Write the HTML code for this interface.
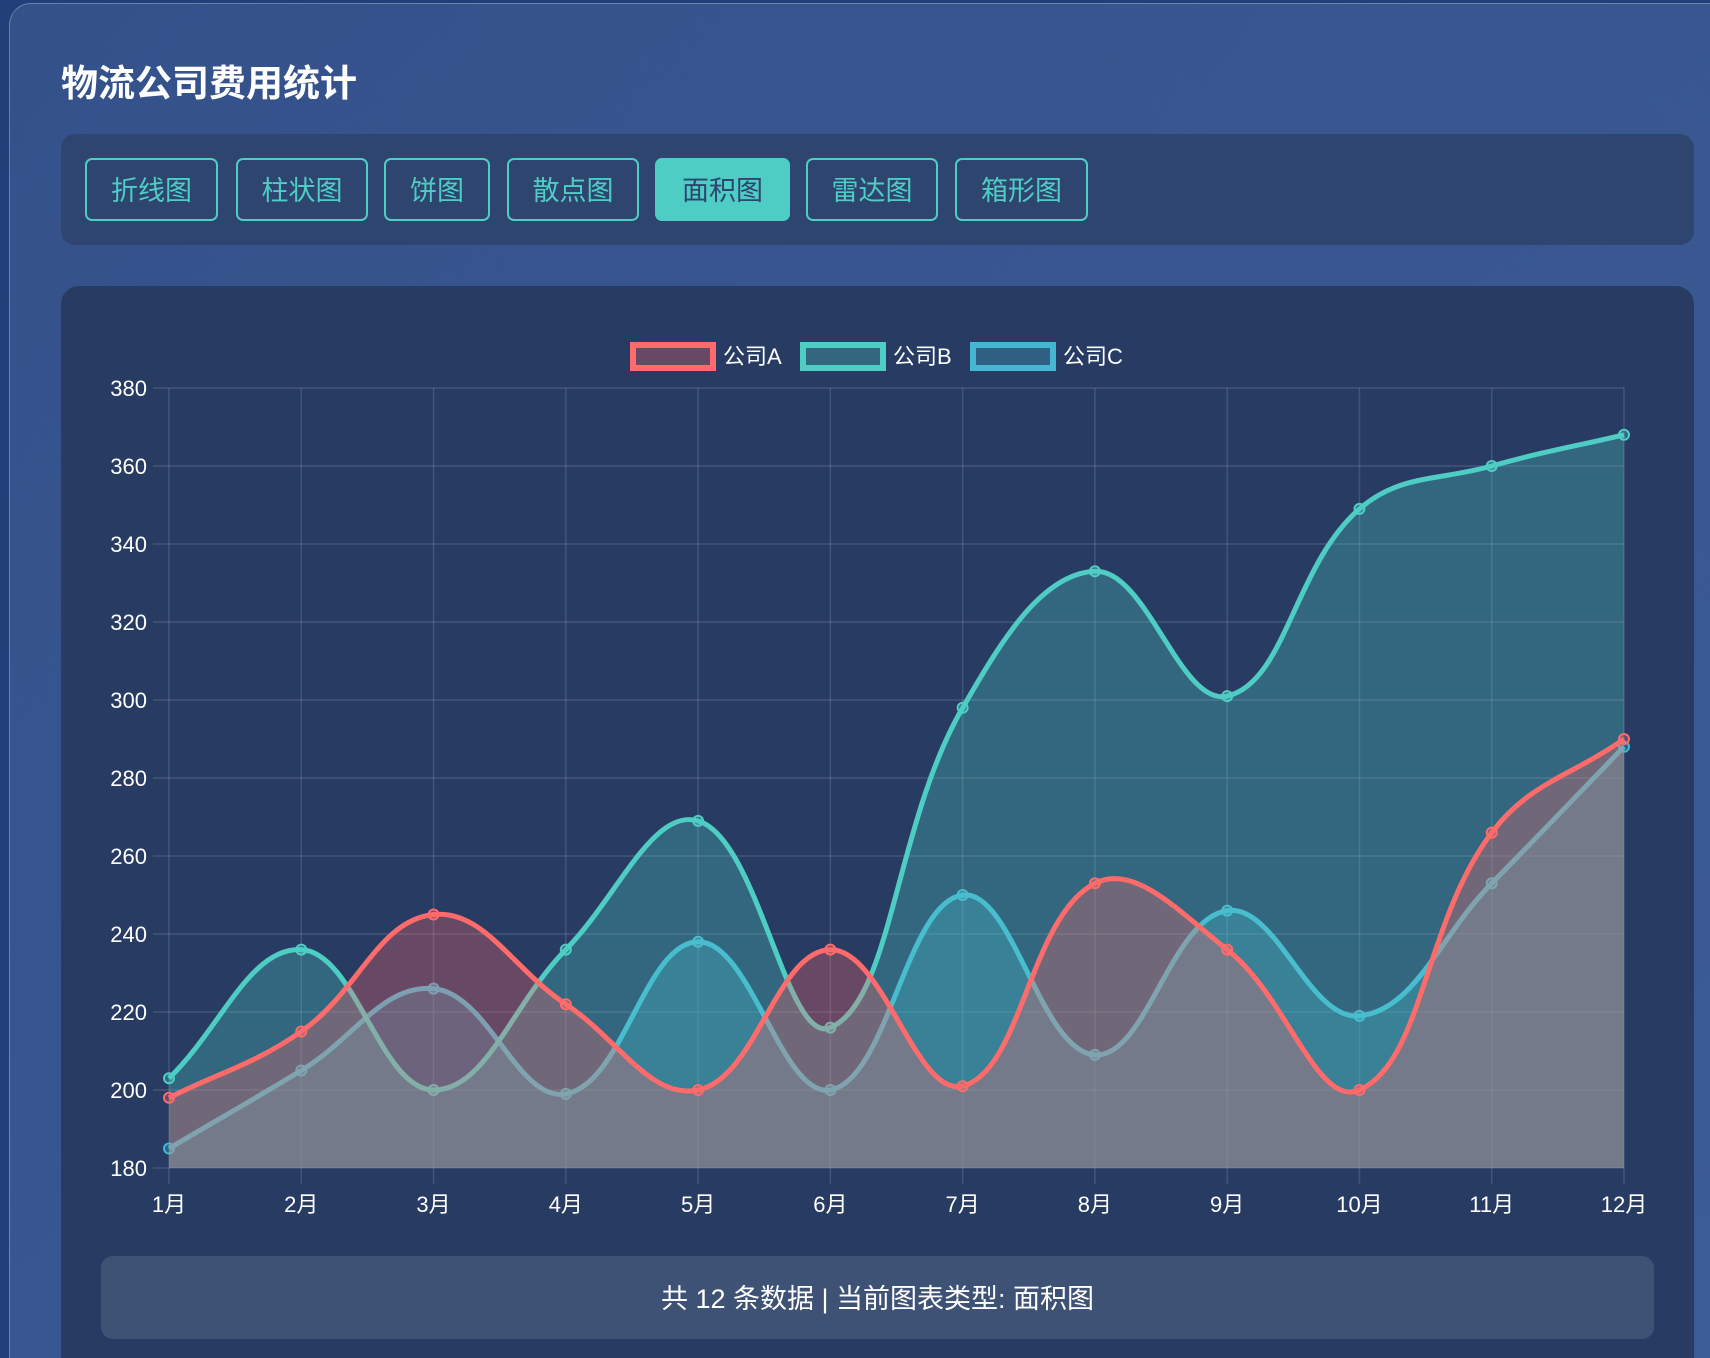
<!DOCTYPE html>
<html><head><meta charset="utf-8">
<style>
html,body{margin:0;padding:0;width:1710px;height:1358px;overflow:hidden;}
body{background:#213f78;font-family:"Liberation Sans","Noto Sans CJK SC",sans-serif;position:relative;}
#panel{position:absolute;left:9px;top:3px;width:1701px;height:1355px;border-radius:22px 0 0 0;background:linear-gradient(135deg,#34518a,#3c5c96);border-left:1px solid rgba(255,255,255,0.25);border-top:1px solid rgba(255,255,255,0.25);}
#title{position:absolute;left:61px;top:53px;font-size:37px;font-weight:bold;color:#fff;}
#bar{position:absolute;left:61px;top:134px;width:1633px;height:111px;border-radius:14px;background:#2e4570;}
.btn{position:absolute;top:24px;height:59px;border:2px solid #4ecdc4;border-radius:7px;color:#4ecdc4;font-size:27px;line-height:63px;text-align:center;box-sizing:content-box;}
.btn.active{background:#4ecdc4;color:#2e4570;}
#card{position:absolute;left:61px;top:286px;width:1633px;height:1072px;border-radius:18px 18px 0 0;background:#283c63;}
#chart{position:absolute;left:0;top:0;}
#footer{position:absolute;left:101px;top:1256px;width:1553px;height:83px;border-radius:12px;background:#3d5275;color:#fff;font-size:27px;line-height:86px;text-align:center;}
</style></head>
<body>
<div id="panel"></div>
<div id="title">物流公司费用统计</div>
<div id="bar">
  <div class="btn" style="left:24px;width:129px">折线图</div>
  <div class="btn" style="left:175px;width:128px">柱状图</div>
  <div class="btn" style="left:323px;width:102px">饼图</div>
  <div class="btn" style="left:446px;width:128px">散点图</div>
  <div class="btn active" style="left:594px;width:131px">面积图</div>
  <div class="btn" style="left:745px;width:128px">雷达图</div>
  <div class="btn" style="left:894px;width:129px">箱形图</div>
</div>
<div id="card"></div>
<svg id="chart" width="1710" height="1358"></svg>
<div id="footer">共 12 条数据 | 当前图表类型: 面积图</div>
<script>
const months = ["1月","2月","3月","4月","5月","6月","7月","8月","9月","10月","11月","12月"];
const seriesA = [198,215,245,222,200,236,201,253,236,200,266,290];
const seriesB = [203,236,200,236,269,216,298,333,301,349,360,368];
const seriesC = [185,205,226,199,238,200,250,209,246,219,253,288];
const seriesNames = ["公司A","公司B","公司C"];
const yTicks = [180,200,220,240,260,280,300,320,340,360,380];

const NS="http://www.w3.org/2000/svg";
const svg=document.getElementById('chart');
const X0=169,X1=1624,Y0=1168,Y1=388,YMIN=180,YMAX=380;
const FONT='"Liberation Sans","Noto Sans CJK SC",sans-serif';
function xs(i){return X0+(X1-X0)*i/(months.length-1);}
function ys(v){return Y0-(v-YMIN)/(YMAX-YMIN)*(Y0-Y1);}
function mk(tag,attrs){const e=document.createElementNS(NS,tag);for(const k in attrs)e.setAttribute(k,attrs[k]);svg.appendChild(e);return e;}

yTicks.forEach(t=>{
  const l=mk('line',{x1:X0-16,x2:X1,y1:ys(t),y2:ys(t),stroke:'rgba(255,255,255,0.13)','stroke-width':1.5});
  
  
  const tx=mk('text',{x:X0-22,y:ys(t)+8,'text-anchor':'end',fill:'#fff','font-size':22,'font-family':FONT});
  tx.textContent=t;
  
  
});
months.forEach((m,i)=>{
  const l=mk('line',{x1:xs(i),x2:xs(i),y1:Y1,y2:Y0+16,stroke:'rgba(255,255,255,0.13)','stroke-width':1.5});
  
  
  const tx=mk('text',{x:xs(i),y:Y0+44,'text-anchor':'middle',fill:'#fff','font-size':22,'font-family':FONT});
  tx.textContent=m;
  
  
});

function splinePath(vals){
  const pts=vals.map((v,i)=>[xs(i),ys(v)]);
  const t=0.4;
  const cps=pts.map((p,i)=>{
    const prev=pts[i-1]||p,next=pts[i+1]||p;
    const d01=Math.hypot(p[0]-prev[0],p[1]-prev[1]);
    const d12=Math.hypot(next[0]-p[0],next[1]-p[1]);
    let fa=d01/(d01+d12)||0,fb=d12/(d01+d12)||0;
    fa*=t;fb*=t;
    return {p:[p[0]-fa*(next[0]-prev[0]),p[1]-fa*(next[1]-prev[1])],n:[p[0]+fb*(next[0]-prev[0]),p[1]+fb*(next[1]-prev[1])]};
  });
  cps.forEach(c=>{c.p[1]=Math.max(Y1,Math.min(Y0,c.p[1]));c.n[1]=Math.max(Y1,Math.min(Y0,c.n[1]));});
  let d='M'+pts[0][0]+','+pts[0][1];
  for(let i=1;i<pts.length;i++){
    d+=' C'+cps[i-1].n[0]+','+cps[i-1].n[1]+' '+cps[i].p[0]+','+cps[i].p[1]+' '+pts[i][0]+','+pts[i][1];
  }
  return d;
}
const defs=[
  {vals:seriesC,line:'#45b7d1',fill:'rgba(69,183,209,0.3)',name:'series-c'},
  {vals:seriesB,line:'#4ecdc4',fill:'rgba(78,205,196,0.3)',name:'series-b'},
  {vals:seriesA,line:'#ff6b6b',fill:'rgba(255,107,107,0.3)',name:'series-a'}
];
defs.forEach(s=>{
  const d=splinePath(s.vals);
  const a=mk('path',{d:d+' L'+xs(s.vals.length-1)+','+Y0+' L'+xs(0)+','+Y0+' Z',fill:s.fill,stroke:'none'});
  
  
  const l=mk('path',{d:d,fill:'none',stroke:s.line,'stroke-width':5});
  
  
  s.vals.forEach((v,i)=>{
    const c=mk('circle',{cx:xs(i),cy:ys(v),r:5,fill:s.fill,stroke:s.line,'stroke-width':2});
    
    
  });
});
const legendX=[630,800,970];
const legCols=[['#ff6b6b','rgba(255,107,107,0.3)'],['#4ecdc4','rgba(78,205,196,0.3)'],['#45b7d1','rgba(69,183,209,0.3)']];
seriesNames.forEach((n,i)=>{
  const r=mk('rect',{x:legendX[i]+3,y:345,width:80,height:23,fill:legCols[i][1],stroke:legCols[i][0],'stroke-width':6});
  
  
  const tx=mk('text',{x:legendX[i]+93,y:364,fill:'#fff','font-size':22,'font-family':FONT});
  tx.textContent=n;
  
  
});
</script>
</body></html>
